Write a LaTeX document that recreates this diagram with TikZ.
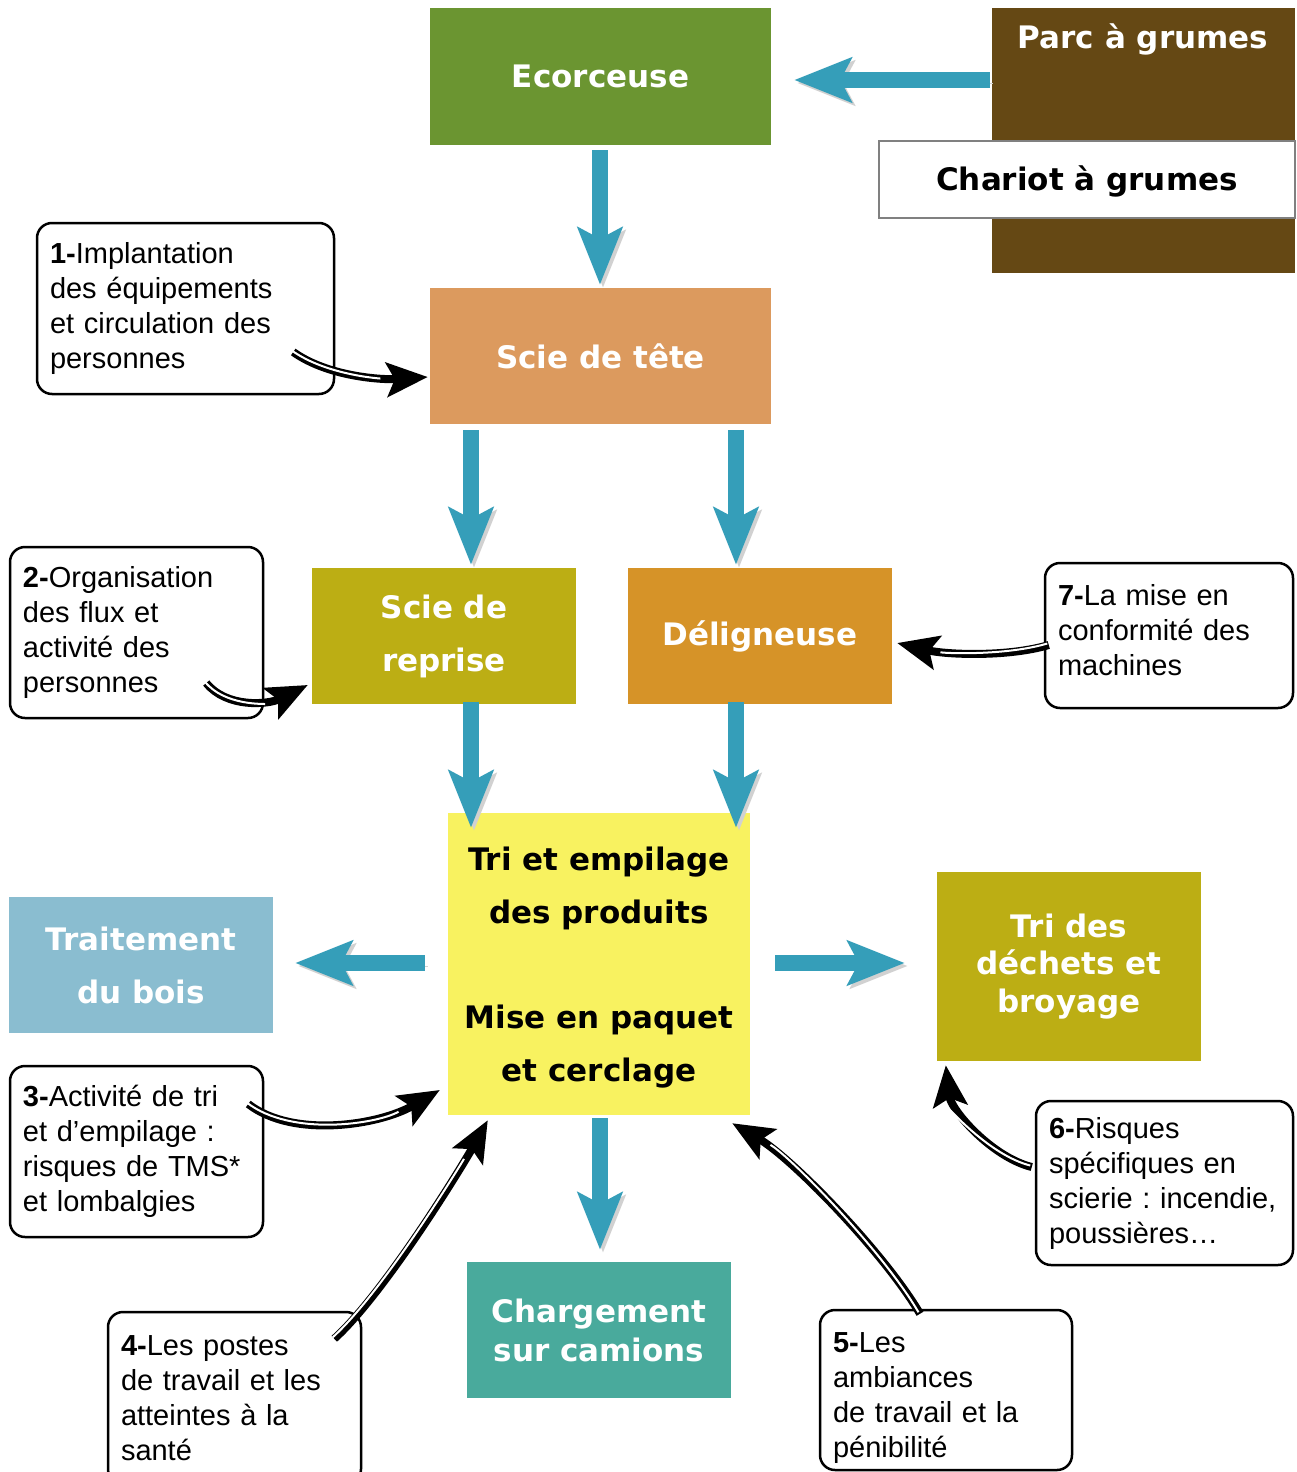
\documentclass[tikz,border=0pt]{standalone}
\usepackage{fontspec}
\setmainfont{Liberation Sans}
\newfontfamily\titlefont{DejaVu Sans}
\usepackage{tikz}
\usetikzlibrary{arrows.meta,calc,positioning}
\definecolor{ecorgreen}{HTML}{6B9531}
\definecolor{parcbrown}{HTML}{654814}
\definecolor{tetecol}{HTML}{DC9A5E}
\definecolor{reprisecol}{HTML}{BCAE14}
\definecolor{deligncol}{HTML}{D69328}
\definecolor{tricol}{HTML}{F8F260}
\definecolor{traitcol}{HTML}{8ABDD0}
\definecolor{chargcol}{HTML}{49AA9C}
\definecolor{flowblue}{HTML}{359EB9}
\frenchspacing
\tikzset{
    mybox/.style={inner sep=0pt,align=center,text=white,font=\titlefont\bfseries\fontsize{31}{53}\selectfont},
    mynote/.style={draw=black,line width=2.5pt,rounded corners=15pt,fill=white,align=left,inner xsep=13pt,inner ysep=0pt,font=\fontsize{29}{35}\selectfont},
    myflow/.style={draw=flowblue,line width=16pt,-{Stealth[length=57pt,width=44pt,inset=11pt]},
      preaction={draw=black!18,transform canvas={shift={(3pt,-3pt)}}}},
    mylink/.style={line width=8pt,-{Stealth[length=41pt,width=34pt,inset=8pt]},
      postaction={draw=white,line width=2pt,-,shorten >=46pt,transform canvas={shift={(-1.5pt,1.5pt)}}}}
}

\begin{document}
\begin{tikzpicture}[x=1pt,y=-1pt]
  \useasboundingbox[fill=white] (0,0) rectangle (1296,1472);

  % 方框
  \node[mybox,fill=ecorgreen,minimum width=341pt,minimum height=137pt]
    (ecor) at (600.5,76.5) {Ecorceuse};
  \node[mybox,fill=parcbrown,minimum width=303pt,minimum height=265pt]
    (parc) at (1143.5,140.5) {};
  \node[mybox] (parctxt) at (1143,39) {Parc à grumes};
  \node[
    mybox,
    text=black,
    fill=white,
    draw=black!50,
    line width=2pt,
    minimum width=416pt,
    minimum height=77pt
  ] (chariot) at (1087,179.5) {\rule{0pt}{28pt}Chariot à grumes};
  \node[mybox,fill=tetecol,minimum width=341pt,minimum height=136pt]
    (tete) at (600.5,356) {Scie de tête};
  \node[mybox,fill=reprisecol,minimum width=264pt,minimum height=136pt]
    (reprise) at (444,636) {Scie de\\reprise};
  \node[mybox,fill=deligncol,minimum width=264pt,minimum height=136pt]
    (delign) at (760,636) {Déligneuse};
  \node[mybox,text=black,fill=tricol,minimum width=302pt,minimum height=302pt]
    (tri) at (599,964) {\rule{0pt}{30pt}Tri et empilage\\des produits\\[52pt]Mise en paquet\\et cerclage};
  \node[mybox,fill=traitcol,minimum width=264pt,minimum height=136pt]
    (trait) at (141,965) {Traitement\\du bois};
  \node[
    mybox,
    fill=reprisecol,
    font=\titlefont\bfseries\fontsize{31}{37.5}\selectfont,
    minimum width=264pt,
    minimum height=189pt
  ] (dech) at (1069,966.5) {Tri des\\déchets et\\broyage};
  \node[
    mybox,
    fill=chargcol,
    font=\titlefont\bfseries\fontsize{31}{39}\selectfont,
    minimum width=264pt,
    minimum height=136pt
  ] (charg) at (599,1330) {Chargement\\sur camions};

  % 说明框
  \node[mynote,text width=271pt,minimum height=171pt] (c1) at (185.5,308.5)
    {\textbf{1-}Implantation\\des équipements\\et circulation des\\personnes};
  \node[mynote,text width=227pt,minimum height=171pt] (c2) at (136.5,632.5)
    {\textbf{2-}Organisation\\des flux et\\activité des\\personnes};
  \node[mynote,text width=222pt,minimum height=145pt] (c7) at (1169,635.5)
    {\textbf{7-}La mise en\\conformité des\\machines\rule[-12pt]{0pt}{0pt}};
  \node[mynote,text width=227pt,minimum height=171pt] (c3) at (136.5,1151.5)
    {\textbf{3-}Activité de tri\\et d’empilage :\\risques de TMS*\\et lombalgies};
  \node[mynote,text width=227pt,minimum height=172pt] (c4) at (234.5,1398)
    {\textbf{4-}Les postes\\de travail et les\\atteintes à la\\santé};
  \node[mynote,text width=226pt,minimum height=160pt] (c5) at (946,1390)
    {\rule{0pt}{35pt}\textbf{5-}Les\\ambiances\\de travail et la\\pénibilité};
  \node[mynote,text width=231pt,minimum height=164pt] (c6) at (1164.5,1183)
    {\textbf{6-}Risques\\spécifiques en\\\mbox{scierie : incendie,}\\poussières…};

  % 流程箭头
  \draw[myflow] ($(parc.west)+(-2,-60.5)$) -- ($(ecor.east)+(23,3.5)$);
  \draw[myflow] ($(ecor.south)+(-0.5,5)$) -- ($(tete.north)+(-0.5,-3)$);
  \draw[myflow] ($(tete.south)+(-129.5,6)$) -- ($(reprise.north)+(27,-3)$);
  \draw[myflow] ($(tete.south)+(135.5,6)$) -- ($(delign.north)+(-24,-3)$);
  \draw[myflow] ($(reprise.south)+(27,-2)$) -- ($(tri.north)+(-128,15)$);
  \draw[myflow] ($(delign.south)+(-24,-2)$) -- ($(tri.north)+(137,15)$);
  \draw[myflow] ($(tri.west)+(-23,-1)$) -- ($(trait.east)+(22,-2)$);
  \draw[myflow] ($(tri.east)+(25,-1)$) -- ($(dech.west)+(-32,-3.5)$);
  \draw[myflow] ($(tri.south)+(1,3)$) -- ($(charg.north)+(1,-12)$);

  % 说明箭头
  \draw[mylink] ($(c1.east)+(-42,43.5)$)
    .. controls +(35,25) and +(-45,3) .. ($(tete.west)+(-2,21)$);
  \draw[mylink] ($(c2.east)+(-58,50.5)$)
    .. controls +(20,25) and +(-40,20) .. ($(reprise.west)+(-4,49)$);
  \draw[mylink] ($(c7.west)+(5,9.5)$)
    .. controls +(-40,12) and +(50,12) .. ($(delign.east)+(5,7)$);
  \draw[mylink] ($(c3.east)+(-16,-47.5)$)
    .. controls +(45,35) and +(-60,35) .. ($(tri.west)+(-8,126)$);
  \draw[mylink] ($(c4.north east)+(-28,28)$)
    .. controls +(50,-45) and +(-25,45) .. ($(tri.south west)+(40,5)$);
  \draw[mylink] ($(c5.north)+(-26,5)$)
    .. controls +(-35,-60) and +(60,35) .. ($(tri.south east)+(-18,8)$);
  \draw[mylink] ($(c6.west)+(-3,-16)$)
    .. controls +(-40,-10) and +(5,45) .. ($(dech.south west)+(9,4)$);
\end{tikzpicture}
\end{document}
